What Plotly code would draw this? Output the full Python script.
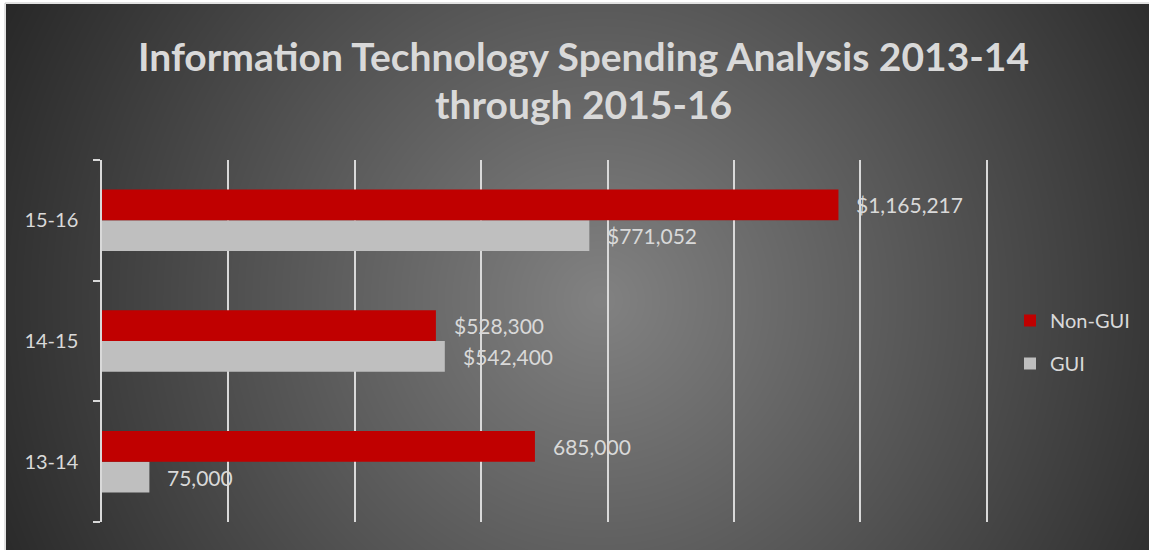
import base64
import struct
import zlib

import numpy as np
import plotly.graph_objects as go

# ---------------- data ----------------
categories = ["13-14", "14-15", "15-16"]
non_gui = [685000, 528300, 1165217]
gui = [75000, 542400, 771052]
currency_label = [False, True, True]   # whether the data label shows a "$"
title_lines = ["Information Technology Spending Analysis 2013-14", "through 2015-16"]

# ---------------- style ----------------
W, H = 1149, 550
ML, MR, MT, MB = 102, 159, 160, 28
PW, PH = W - ML - MR, H - MT - MB
TXT = "#D9D9D9"
RED = "#C00000"
GRAY = "#BFBFBF"
FONT = "Lato, 'Open Sans', sans-serif"


def gradient_uri():
    x0, y0 = 6, 4
    w, h = W - x0, H - y0
    xs = np.arange(w) + x0
    ys = np.arange(h) + y0
    X, Y = np.meshgrid(xs, ys)
    r = np.hypot(X - 600, Y - 300)
    v = np.clip(130 - 0.135 * r, 38, 255).astype(np.uint8)
    raw = b"".join(b"\x00" + row.tobytes() for row in v)

    def chunk(tag, data):
        return (struct.pack(">I", len(data)) + tag + data
                + struct.pack(">I", zlib.crc32(tag + data) & 0xFFFFFFFF))

    png = (b"\x89PNG\r\n\x1a\n"
           + chunk(b"IHDR", struct.pack(">IIBBBBB", w, h, 8, 0, 0, 0, 0))
           + chunk(b"IDAT", zlib.compress(raw, 9))
           + chunk(b"IEND", b""))
    return "data:image/png;base64," + base64.b64encode(png).decode(), x0, y0, w, h


def fmt(v, cur):
    return ("$" if cur else "") + f"{v:,}"


def py(px):
    """figure pixel row -> paper y"""
    return (H - MB - px) / PH


def px_(x):
    """figure pixel column -> paper x"""
    return (x - ML) / PW


fig = go.Figure()
fig.add_trace(go.Bar(y=categories, x=gui, name="GUI", orientation="h",
                     marker=dict(color=GRAY, line=dict(width=0)),
                     legendgroup="g", legendrank=2, hoverinfo="skip"))
fig.add_trace(go.Bar(y=categories, x=non_gui, name="Non-GUI", orientation="h",
                     marker=dict(color=RED, line=dict(width=0)),
                     legendgroup="n", legendrank=1, hoverinfo="skip"))

band = PH / len(categories)
bar_h = band * (1 - 0.49) / 2
annotations = []
for cat, v, cur in zip(categories, non_gui, currency_label):
    annotations.append(dict(x=v, y=cat, xref="x", yref="y", text=fmt(v, cur),
                            showarrow=False, xanchor="left", xshift=16,
                            yshift=bar_h / 2, font=dict(family=FONT, size=21, color=TXT)))
for cat, v, cur in zip(categories, gui, currency_label):
    annotations.append(dict(x=v, y=cat, xref="x", yref="y", text=fmt(v, cur),
                            showarrow=False, xanchor="left", xshift=16,
                            yshift=-bar_h / 2, font=dict(family=FONT, size=21, color=TXT)))

# chart title (two centred lines)
for line, ypx in zip(title_lines, [56, 104]):
    annotations.append(dict(x=px_(583), y=py(ypx), xref="paper", yref="paper",
                            text=line, showarrow=False, xanchor="center",
                            yanchor="middle",
                            font=dict(family=FONT, size=39, color=TXT, weight="bold")))

uri, gx0, gy0, gw, gh = gradient_uri()

fig.update_layout(
    width=W, height=H,
    margin=dict(l=ML, r=MR, t=MT, b=MB, autoexpand=False),
    paper_bgcolor="white",
    plot_bgcolor="rgba(0,0,0,0)",
    barmode="group", bargap=0.49, bargroupgap=0,
    xaxis=dict(range=[0, 1405000], dtick=200000, showgrid=True, gridcolor=TXT,
               gridwidth=1.5, zeroline=False, showticklabels=False, showline=False,
               fixedrange=True),
    yaxis=dict(showline=True, linecolor=TXT, linewidth=1.5, ticks="outside",
               ticklen=7, tickwidth=1.5, tickcolor=TXT, tickson="boundaries",
               ticklabelstandoff=18, showgrid=False,
               tickfont=dict(family=FONT, size=20, color=TXT), fixedrange=True),
    legend=dict(x=px_(1010), y=py(342), xanchor="left",
                yanchor="middle", traceorder="grouped", tracegroupgap=14,
                bgcolor="rgba(0,0,0,0)", font=dict(family=FONT, size=20, color=TXT)),
    annotations=annotations,
    images=[dict(source=uri, xref="paper", yref="paper",
                 x=px_(gx0), y=py(gy0),
                 sizex=gw / PW, sizey=gh / PH, sizing="stretch",
                 xanchor="left", yanchor="top", layer="below")],
    shapes=[dict(type="rect", xref="paper", yref="paper",
                 x0=px_(5), x1=px_(W + 2), y0=py(H + 2), y1=py(3),
                 line=dict(color="#C4C4C4", width=1), fillcolor="rgba(0,0,0,0)",
                 layer="below")],
)

fig.write_html("out.html", config={"displayModeBar": False},
               post_script="document.body.style.margin='0';")
